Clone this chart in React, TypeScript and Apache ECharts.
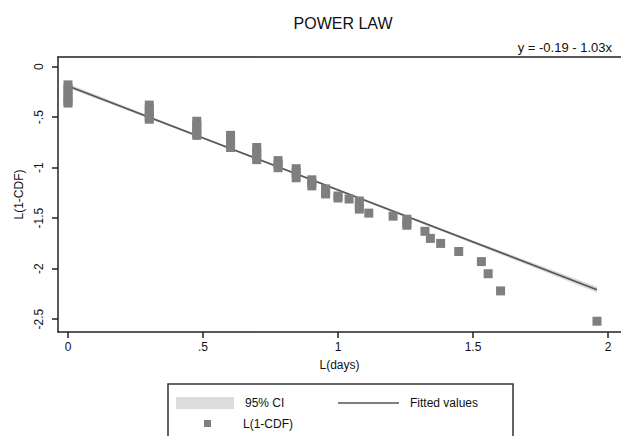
import React, { useEffect, useRef } from "react";
import * as echarts from "echarts";

const titleText = "POWER LAW";
const noteText = "y = -0.19 - 1.03x";
const xName = "L(days)";
const yName = "L(1-CDF)";
const xTicks = [0, 0.5, 1, 1.5, 2];
const yTicks = [0, -0.5, -1, -1.5, -2, -2.5];

// observed points L(days), L(1-CDF)
const ptsX = [
  0, 0, 0, 0, 0, 0,
  0.301, 0.301, 0.301, 0.301, 0.301,
  0.477, 0.477, 0.477, 0.477, 0.477,
  0.602, 0.602, 0.602, 0.602,
  0.699, 0.699, 0.699, 0.699,
  0.778, 0.778, 0.778,
  0.845, 0.845, 0.845,
  0.903, 0.903, 0.903,
  0.954, 0.954, 0.954,
  1.0, 1.0,
  1.041,
  1.079, 1.079, 1.079,
  1.114,
  1.204,
  1.255, 1.255, 1.255,
  1.322, 1.342, 1.38, 1.447, 1.531, 1.556, 1.602, 1.959,
];
const ptsY = [
  -0.18, -0.22, -0.26, -0.3, -0.34, -0.36,
  -0.38, -0.42, -0.46, -0.5, -0.52,
  -0.54, -0.58, -0.62, -0.66, -0.68,
  -0.68, -0.72, -0.76, -0.8,
  -0.8, -0.84, -0.88, -0.92,
  -0.93, -0.97, -1.0,
  -1.01, -1.05, -1.1,
  -1.12, -1.15, -1.18,
  -1.21, -1.24, -1.26,
  -1.28, -1.3,
  -1.31,
  -1.33, -1.37, -1.41,
  -1.45,
  -1.48,
  -1.51, -1.55, -1.57,
  -1.63, -1.7, -1.75, -1.83, -1.93, -2.05, -2.22, -2.52,
];

// fitted line endpoints
const fitX = [0, 1.959];
const fitY = [-0.19, -2.208];

// 95% CI band
const ciX = [0, 0.5, 1.0, 1.5, 1.959];
const ciLo = [-0.21, -0.715, -1.23, -1.75, -2.235];
const ciHi = [-0.17, -0.695, -1.21, -1.72, -2.18];

const FONT = "Liberation Sans";
const fmt = (v: number) => {
  if (v === 0) return "0";
  return String(v).replace("0.", ".");
};

export default function App() {
  const ref = useRef<HTMLDivElement>(null);
  useEffect(() => {
    if (!ref.current) return;
    const chart = echarts.init(ref.current, undefined, { renderer: "svg" });
    const pts = ptsX.map((x, i) => [x, ptsY[i]]);
    const fit = fitX.map((x, i) => [x, fitY[i]]);
    const ci = ciX.map((x, i) => [x, ciLo[i], ciHi[i]]);
    chart.setOption({
      animation: false,
      backgroundColor: "#ffffff",
      textStyle: { fontFamily: FONT },
      grid: { left: 58, top: 57, right: 0, bottom: 104, show: false },
      xAxis: [
        {
          type: "value",
          min: -0.037,
          max: 2.048,
          position: "bottom",
          name: xName,
          nameLocation: "middle",
          nameGap: 27,
          nameTextStyle: { fontFamily: FONT, fontSize: 12, color: "#111" },
          axisLine: { show: true, onZero: false, lineStyle: { color: "#222", width: 1.5 } },
          axisTick: { show: true, length: 6, customValues: xTicks, lineStyle: { color: "#222", width: 1.5 } },
          axisLabel: { customValues: xTicks, formatter: fmt, fontFamily: FONT, fontSize: 12, color: "#111", margin: 9 },
          splitLine: { show: false },
        },
        {
          type: "value",
          min: -0.037,
          max: 2.048,
          position: "top",
          axisLine: { show: true, onZero: false, lineStyle: { color: "#222", width: 1.5 } },
          axisTick: { show: false },
          axisLabel: { show: false },
          splitLine: { show: false },
        },
      ],
      yAxis: {
        type: "value",
        min: -2.627,
        max: 0.096,
        name: yName,
        nameLocation: "middle",
        nameGap: 31,
        nameRotate: 90,
        nameTextStyle: { fontFamily: FONT, fontSize: 12, color: "#111" },
        axisLine: { show: true, onZero: false, lineStyle: { color: "#222", width: 1.5 } },
        axisTick: { show: true, length: 6, customValues: yTicks, lineStyle: { color: "#222", width: 1.5 } },
        axisLabel: { customValues: yTicks, formatter: fmt, rotate: 90, fontFamily: FONT, fontSize: 12, color: "#111", margin: 13 },
        splitLine: { show: false },
      },
      title: [
        {
          text: titleText,
          left: 338,
          top: 10,
          textAlign: "center",
          textStyle: { fontFamily: FONT, fontSize: 16, fontWeight: "normal", color: "#111" },
        },
        {
          text: noteText,
          right: 4,
          top: 36,
          textStyle: { fontFamily: FONT, fontSize: 13, fontWeight: "normal", color: "#111" },
        },
      ],
      series: [
        {
          type: "custom",
          name: "95% CI",
          data: ci,
          renderItem: (params: any, api: any) => {
            if (params.dataIndex !== 0) return null;
            const upper = ci.map((d) => api.coord([d[0], d[2]]));
            const lower = ci.map((d) => api.coord([d[0], d[1]])).reverse();
            return {
              type: "polygon",
              shape: { points: upper.concat(lower) },
              style: { fill: "#d8d8d8" },
            };
          },
          z: 1,
        },
        {
          type: "line",
          name: "Fitted values",
          data: fit,
          showSymbol: false,
          lineStyle: { color: "#555555", width: 1.6 },
          z: 2,
        },
        {
          type: "scatter",
          name: "L(1-CDF)",
          data: pts,
          symbol: "rect",
          symbolSize: 9,
          itemStyle: { color: "#7f7f7f", opacity: 1, borderWidth: 0 },
          z: 3,
        },
      ],
      graphic: [
        {
          type: "rect",
          shape: { x: 168, y: 384, width: 345, height: 70 },
          style: { fill: "#fff", stroke: "#333", lineWidth: 1.5 },
        },
        {
          type: "rect",
          shape: { x: 176, y: 397, width: 58, height: 12 },
          style: { fill: "#dcdcdc" },
        },
        {
          type: "text",
          x: 245,
          y: 403,
          style: { text: "95% CI", fontFamily: FONT, fontSize: 12, fill: "#111", verticalAlign: "middle" },
        },
        {
          type: "line",
          shape: { x1: 338, y1: 403, x2: 399, y2: 403 },
          style: { stroke: "#555555", lineWidth: 1.5 },
        },
        {
          type: "text",
          x: 410,
          y: 403,
          style: { text: "Fitted values", fontFamily: FONT, fontSize: 12, fill: "#111", verticalAlign: "middle" },
        },
        {
          type: "rect",
          shape: { x: 204, y: 420, width: 7, height: 7 },
          style: { fill: "#7f7f7f" },
        },
        {
          type: "text",
          x: 243,
          y: 424,
          style: { text: "L(1-CDF)", fontFamily: FONT, fontSize: 12, fill: "#111", verticalAlign: "middle" },
        },
      ],
    });
    return () => chart.dispose();
  }, []);
  return (
    <div
      ref={ref}
      style={{ position: "fixed", left: 0, top: 0, width: 621, height: 436 }}
    />
  );
}
